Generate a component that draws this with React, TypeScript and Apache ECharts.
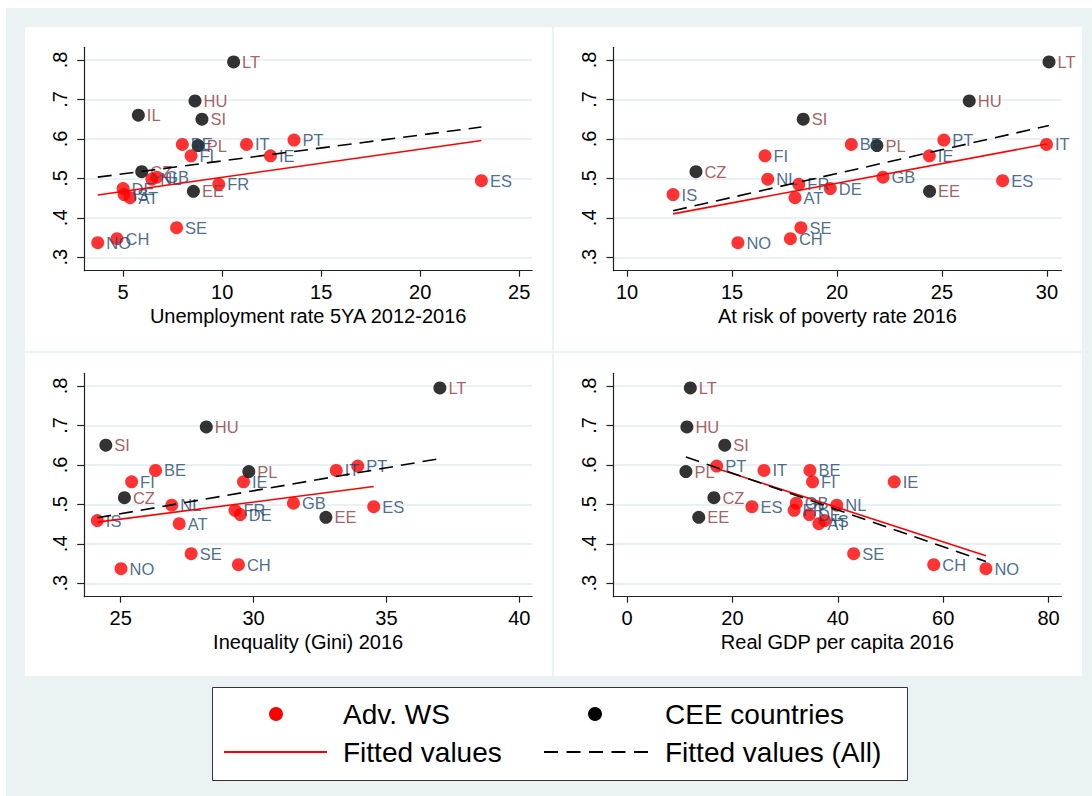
import { useEffect, useRef } from "react";
import * as echarts from "echarts";

const FONT = "'Liberation Sans', Arial, Helvetica, sans-serif";
const NAVY = "#1a476f";
const MAROON = "#90353b";

// Advanced welfare states: country codes and the plotted index
const advCodes = ["PT", "IT", "BE", "FI", "IE", "GB", "NL", "ES", "FR", "DE", "IS", "AT", "SE", "CH", "NO"];
const advIndex = [0.597, 0.586, 0.586, 0.557, 0.557, 0.503, 0.498, 0.494, 0.485, 0.474, 0.459, 0.451, 0.375, 0.347, 0.337];

// Central and Eastern European countries
const ceeCodes = ["LT", "HU", "SI", "PL", "CZ", "EE"];
const ceeIndex = [0.795, 0.696, 0.65, 0.583, 0.517, 0.467];

// Israel appears only in the unemployment panel
const extraCodes = ["IL"];
const extraIndex = [0.66];

// Unemployment rate 5YA 2012-2016
const unempAdv = [13.63, 11.23, 7.99, 8.43, 12.44, 6.7, 6.45, 23.09, 9.83, 5.0, 5.05, 5.35, 7.7, 4.69, 3.72];
const unempCee = [10.58, 8.63, 8.98, 8.79, 5.94, 8.55];
const unempExtra = [5.77];

// At risk of poverty rate 2016
const povertyAdv = [25.09, 29.98, 20.68, 16.57, 24.4, 22.19, 16.7, 27.89, 18.18, 19.68, 12.19, 18.0, 18.28, 17.78, 15.28];
const povertyCee = [30.1, 26.3, 18.39, 21.9, 13.28, 24.41];

// Inequality (Gini) 2016
const giniAdv = [33.92, 33.11, 26.31, 25.41, 29.62, 31.5, 26.92, 34.52, 29.3, 29.5, 24.12, 27.2, 27.65, 29.43, 25.01];
const giniCee = [37.01, 28.22, 24.44, 29.82, 25.14, 32.72];

// Real GDP per capita 2016
const gdpAdv = [17.0, 25.98, 34.7, 35.2, 50.7, 32.1, 39.8, 23.7, 31.7, 34.6, 37.5, 36.4, 43.0, 58.2, 68.1];
const gdpCee = [12.0, 11.35, 18.54, 11.16, 16.48, 13.6];

// Fitted-line end points (x pair, y pair)
const fitAdvUnempX = [3.72, 23.09];
const fitAdvUnempY = [0.458, 0.596];
const fitAllUnempX = [3.72, 23.09];
const fitAllUnempY = [0.503, 0.63];

const fitAdvPovertyX = [12.19, 29.98];
const fitAdvPovertyY = [0.41, 0.587];
const fitAllPovertyX = [12.19, 30.1];
const fitAllPovertyY = [0.418, 0.634];

const fitAdvGiniX = [24.12, 34.52];
const fitAdvGiniY = [0.455, 0.545];
const fitAllGiniX = [24.12, 37.01];
const fitAllGiniY = [0.466, 0.616];

const fitAdvGdpX = [17.0, 68.1];
const fitAdvGdpY = [0.591, 0.37];
const fitAllGdpX = [11.16, 68.1];
const fitAllGdpY = [0.62, 0.355];

// Axis ticks
const indexTicks = [0.3, 0.4, 0.5, 0.6, 0.7, 0.8];
const unempTicks = [5, 10, 15, 20, 25];
const povertyTicks = [10, 15, 20, 25, 30];
const giniTicks = [25, 30, 35, 40];
const gdpTicks = [0, 20, 40, 60, 80];

const legendLabels = ["Adv. WS", "CEE countries", "Fitted values", "Fitted values (All)"];

type Panel = {
  title: string;
  ticks: number[];
  min: number;
  max: number;
  advX: number[];
  ceeX: number[];
  extraX?: number[];
  fitAdv: [number[], number[]];
  fitAll: [number[], number[]];
};

const panels: Panel[] = [
  {
    title: "Unemployment rate 5YA 2012-2016",
    ticks: unempTicks, min: 3.036, max: 25.65,
    advX: unempAdv, ceeX: unempCee, extraX: unempExtra,
    fitAdv: [fitAdvUnempX, fitAdvUnempY], fitAll: [fitAllUnempX, fitAllUnempY],
  },
  {
    title: "At risk of poverty rate 2016",
    ticks: povertyTicks, min: 9.347, max: 30.69,
    advX: povertyAdv, ceeX: povertyCee,
    fitAdv: [fitAdvPovertyX, fitAdvPovertyY], fitAll: [fitAllPovertyX, fitAllPovertyY],
  },
  {
    title: "Inequality (Gini) 2016",
    ticks: giniTicks, min: 23.626, max: 40.48,
    advX: giniAdv, ceeX: giniCee,
    fitAdv: [fitAdvGiniX, fitAdvGiniY], fitAll: [fitAllGiniX, fitAllGiniY],
  },
  {
    title: "Real GDP per capita 2016",
    ticks: gdpTicks, min: -2.6, max: 82.43,
    advX: gdpAdv, ceeX: gdpCee,
    fitAdv: [fitAdvGdpX, fitAdvGdpY], fitAll: [fitAllGdpX, fitAllGdpY],
  },
];

// Layout of the 2x2 panel grid
const panelBoxes = [
  { x: 25, y: 27, w: 527, h: 324 },
  { x: 554, y: 27, w: 528, h: 324 },
  { x: 25, y: 353, w: 527, h: 323 },
  { x: 554, y: 353, w: 528, h: 323 },
];
const plotBoxes = [
  { left: 84.2, top: 47.3, width: 447.9, height: 223.4 },
  { left: 613.4, top: 47.3, width: 448, height: 223.4 },
  { left: 84.2, top: 373.3, width: 447.9, height: 223.4 },
  { left: 613.4, top: 373.3, width: 448, height: 223.4 },
];

const fmtIndex = (v: number) => v.toFixed(1).replace(/^0/, "");

function buildOption() {
  const grid = plotBoxes.map((b) => ({ ...b, containLabel: false }));

  const xAxis = panels.map((p, i) => ({
    type: "value",
    gridIndex: i,
    min: p.min,
    max: p.max,
    name: p.title,
    nameLocation: "middle",
    nameGap: 35,
    nameTextStyle: { fontSize: 20, color: "#000", fontFamily: FONT },
    axisLine: { show: true, onZero: false, lineStyle: { color: "#222", width: 1.2 } },
    axisTick: { show: true, length: 6, customValues: p.ticks, lineStyle: { color: "#222", width: 1.2 } },
    axisLabel: { show: true, customValues: p.ticks, fontSize: 20, color: "#000", fontFamily: FONT, margin: 11 },
    splitLine: { show: false },
  }));

  const yAxis = panels.map((_, i) => ({
    type: "value",
    gridIndex: i,
    min: 0.266,
    max: 0.832,
    axisLine: { show: true, onZero: false, lineStyle: { color: "#222", width: 1.2 } },
    axisTick: { show: true, length: 7, customValues: indexTicks, lineStyle: { color: "#222", width: 1.2 } },
    axisLabel: {
      show: true,
      customValues: indexTicks,
      rotate: 90,
      fontSize: 20,
      color: "#000",
      fontFamily: FONT,
      margin: 14,
      formatter: (v: number) => fmtIndex(v),
    },
    splitLine: { show: true, lineStyle: { color: "#e3ecf0", width: 1.6 } },
  }));

  const labelStyle = (color: string) => ({
    show: true,
    position: "right",
    distance: 2,
    fontSize: 16.5,
    fontFamily: FONT,
    color,
    formatter: (p: any) => p.value[2],
  });

  const series: any[] = [];
  panels.forEach((p, i) => {
    series.push({
      type: "scatter",
      xAxisIndex: i,
      yAxisIndex: i,
      symbol: "circle",
      symbolSize: 13,
      itemStyle: { color: "#ff0000" },
      label: labelStyle(NAVY),
      data: p.advX.map((x, k) => [x, advIndex[k], advCodes[k]]),
      silent: true,
    });
    const ceeData = p.ceeX.map((x, k) => [x, ceeIndex[k], ceeCodes[k]]);
    if (p.extraX) p.extraX.forEach((x, k) => ceeData.push([x, extraIndex[k], extraCodes[k]]));
    series.push({
      type: "scatter",
      xAxisIndex: i,
      yAxisIndex: i,
      symbol: "circle",
      symbolSize: 13,
      itemStyle: { color: "#000" },
      label: labelStyle(MAROON),
      data: ceeData,
      silent: true,
    });
    series.push({
      type: "line",
      xAxisIndex: i,
      yAxisIndex: i,
      symbol: "none",
      lineStyle: { color: "#ff0000", width: 1.6 },
      data: p.fitAdv[0].map((x, k) => [x, p.fitAdv[1][k]]),
      silent: true,
      z: 3,
    });
    series.push({
      type: "line",
      xAxisIndex: i,
      yAxisIndex: i,
      symbol: "none",
      lineStyle: { color: "#000", width: 1.6, type: [14, 8] },
      data: p.fitAll[0].map((x, k) => [x, p.fitAll[1][k]]),
      silent: true,
      z: 3,
    });
  });

  const legendText = (text: string, x: number, y: number) => ({
    type: "text",
    z: 11,
    x,
    y,
    style: { text, fontSize: 28, fontFamily: FONT, fill: "#000", verticalAlign: "middle" },
  });

  const graphic: any[] = [
    { type: "rect", z: -20, shape: { x: 6, y: 8, width: 1086, height: 788 }, style: { fill: "#eaf2f3" } },
    ...panelBoxes.map((b) => ({
      type: "rect",
      z: -19,
      shape: { x: b.x, y: b.y, width: b.w, height: b.h },
      style: { fill: "#ffffff" },
    })),
    // legend
    { type: "rect", z: 10, shape: { x: 212.5, y: 687.5, width: 695, height: 93 }, style: { fill: "#ffffff", stroke: "#333", lineWidth: 1 } },
    { type: "circle", z: 11, shape: { cx: 276, cy: 714, r: 7 }, style: { fill: "#ff0000" } },
    legendText(legendLabels[0], 343, 714),
    { type: "circle", z: 11, shape: { cx: 595, cy: 714, r: 7 }, style: { fill: "#000" } },
    legendText(legendLabels[1], 665, 714),
    { type: "line", z: 11, shape: { x1: 224, y1: 752, x2: 327, y2: 752 }, style: { stroke: "#ff0000", lineWidth: 1.8 } },
    legendText(legendLabels[2], 343, 752),
    { type: "line", z: 11, shape: { x1: 544, y1: 752, x2: 648, y2: 752 }, style: { stroke: "#000", lineWidth: 1.8, lineDash: [14, 8.5] } },
    legendText(legendLabels[3], 665, 752),
  ];

  return {
    animation: false,
    backgroundColor: "#ffffff",
    textStyle: { fontFamily: FONT },
    grid,
    xAxis,
    yAxis,
    series,
    graphic,
  };
}

export default function App() {
  const ref = useRef<HTMLDivElement>(null);
  useEffect(() => {
    if (!ref.current) return;
    const chart = echarts.init(ref.current, null, { renderer: "svg" });
    chart.setOption(buildOption() as any);
    return () => chart.dispose();
  }, []);
  return (
    <div
      ref={ref}
      style={{ position: "fixed", left: 0, top: 0, width: 1092, height: 796, background: "#fff" }}
    />
  );
}
